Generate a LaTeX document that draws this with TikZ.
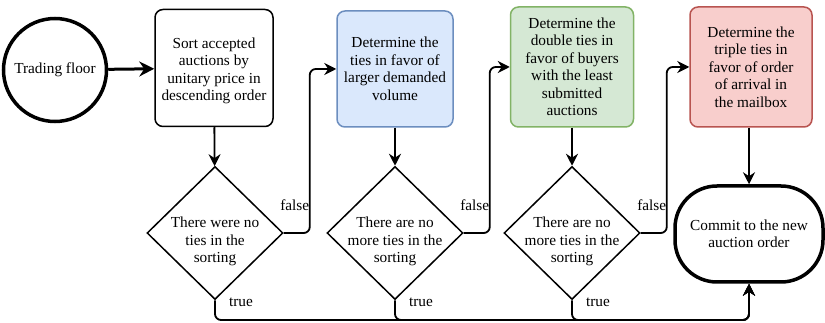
\documentclass[tikz,border=0pt]{standalone}
\usepackage{fontspec}
\setmainfont{Liberation Serif}
\usetikzlibrary{shapes.geometric, arrows.meta}

\definecolor{blueFill}{HTML}{DAE8FC}
\definecolor{blueLine}{HTML}{6C8EBF}
\definecolor{greenFill}{HTML}{D5E8D4}
\definecolor{greenLine}{HTML}{82B366}
\definecolor{redFill}{HTML}{F8CECC}
\definecolor{redLine}{HTML}{B85450}

\tikzset{
    every node/.style={font=\fontsize{15.3}{17.5}\selectfont, align=center},
    terminal/.style={draw=black, line width=3.5pt},
    stepbox/.style={draw=black, line width=1.5pt, rounded corners=8pt, inner sep=0pt},
    decision/.style={draw=black, line width=1.5pt, diamond, inner sep=-14pt,
        minimum width=136pt, minimum height=133pt},
    flow/.style={-{Stealth[length=12pt, width=12pt, inset=4pt]}, line width=1.8pt, rounded corners=6pt},
    branch/.style={anchor=center},
}
\newcommand{\lowered}{\rule{0pt}{28pt}}

\begin{document}
\begin{tikzpicture}[x=1pt, y=-1pt]
    \useasboundingbox (0,0) rectangle (825,323);

    % start and end
    \node[terminal, circle, minimum size=103pt, inner sep=0pt] (floor) at (55,70) {Trading floor};
    \node[terminal, rounded corners=42pt, minimum width=148pt, minimum height=96pt] (commit) at (749,234)
        {Commit to the new\\auction order};

    % tie-breaking steps
    \node[stepbox, minimum width=118pt, minimum height=117pt] (sort) at (214,68)
        {\rule{0pt}{16pt}Sort accepted\\auctions by\\unitary price in\\descending order};
    \node[stepbox, fill=blueFill, draw=blueLine, minimum width=116pt, minimum height=116pt] (volume) at (395,69)
        {Determine the\\ties in favor of\\larger demanded\\volume};
    \node[stepbox, fill=greenFill, draw=greenLine, minimum width=123pt, minimum height=120pt] (buyers) at (572,67)
        {Determine the\\double ties in\\favor of buyers\\with the least\\submitted\\auctions};
    \node[stepbox, fill=redFill, draw=redLine, minimum width=122pt, minimum height=120pt] (mailbox) at (751,67)
        {Determine the\\triple ties in\\favor of order\\of arrival in\\the mailbox};

    % checks
    \node[decision] (check1) at (215,233) {\lowered There were no\\ties in the\\sorting};
    \node[decision] (check2) at (395,233) {\lowered There are no\\more ties in the\\sorting};
    \node[decision] (check3) at (572,233) {\lowered There are no\\more ties in the\\sorting};

    \coordinate (bus) at (0,320);

    % main line
    \draw[-{Stealth[length=15pt, width=15pt, inset=5pt]}, line width=3pt] (floor) -- (sort);
    \draw[flow] (sort) -- (check1);
    \draw[flow] (volume) -- (check2);
    \draw[flow] (buyers) -- (check3);
    \draw[flow] (mailbox.south -| commit.north) -- (commit.north);

    % false branches
    \draw[flow] (check1.east) node[branch, xshift=11pt, yshift=28pt] {false} -- ++(26,0) |- (volume.west);
    \draw[flow] (check2.east) node[branch, xshift=11pt, yshift=28pt] {false} -- ++(26,0) |- (buyers.west);
    \draw[flow] (check3.east) node[branch, xshift=11pt, yshift=28pt] {false} -- ++(26,0) |- (mailbox.west);

    % true branches
    \draw[flow] (check1.south) node[branch, xshift=26pt, yshift=-2pt] {true} -- (check1.south |- bus) -| (commit.south);
    \draw[flow] (check2.south) node[branch, xshift=26pt, yshift=-2pt] {true} -- (check2.south |- bus) -| (commit.south);
    \draw[flow] (check3.south) node[branch, xshift=26pt, yshift=-2pt] {true} -- (check3.south |- bus) -| (commit.south);

\end{tikzpicture}
\end{document}
